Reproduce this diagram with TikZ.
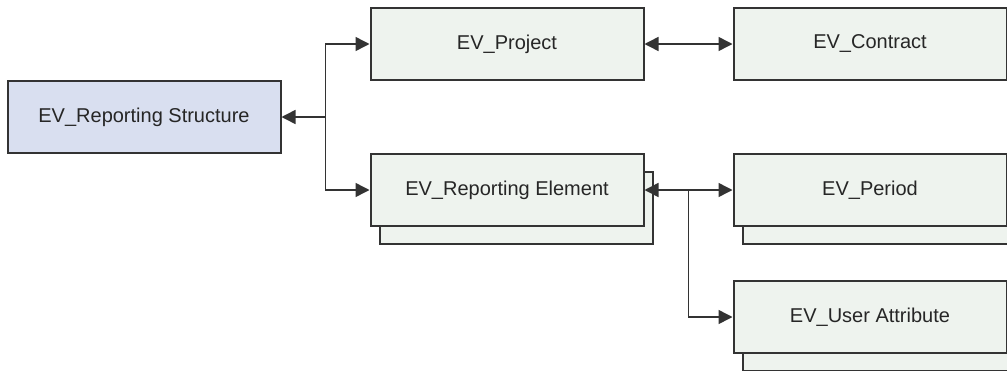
\documentclass[tikz,border=0pt]{standalone}
\usepackage{fontspec}
\setmainfont{Liberation Sans}
\usetikzlibrary{arrows.meta,shadows,calc}
\definecolor{boxfill}{HTML}{EEF3EE}
\definecolor{rootfill}{HTML}{D9DFF0}
\definecolor{boxline}{HTML}{333333}
\begin{document}
\begin{tikzpicture}[x=1pt,y=-1pt,>={Triangle[length=14pt,width=14pt]}]
    \tikzstyle{marrs}=[line width=1.5pt,draw=boxline]
    \tikzstyle{ebox}=[rectangle,draw=boxline,line width=2pt,fill=boxfill,text=black!85,
        minimum width=273pt,minimum height=72pt,font=\fontsize{20}{22}\selectfont]
    \tikzstyle{multi}=[copy shadow={shadow xshift=9pt,shadow yshift=-18pt}]

    \useasboundingbox (0,0) rectangle (1007,370);

    \node[ebox,fill=rootfill] (struct) at (144,117) {EV\_Reporting Structure};
    \node[ebox] (project) at (507,44) {EV\_Project};
    \node[ebox] (contract) at (870,44) {EV\_Contract};
    \node[ebox,multi] (elem) at (507,190) {EV\_Reporting Element};
    \node[ebox,multi] (period) at (870,190) {EV\_Period};
    \node[ebox,multi] (attr) at (870,317) {EV\_User Attribute};

    \coordinate (jl) at ($(struct.east)!0.5!(project.west |- struct.east)$);
    \coordinate (jr) at ($(elem.east)!0.5!(period.west)$);

    \draw[marrs,->] (jl) -- (struct.east);
    \draw[marrs,->] (jl) |- (project.west);
    \draw[marrs,->] (jl) |- (elem.west);
    \draw[marrs,<->] (project.east) -- (contract.west);
    \draw[marrs,<->] (elem.east) -- (period.west);
    \draw[marrs,->] (jr) |- (attr.west);
\end{tikzpicture}
\end{document}
